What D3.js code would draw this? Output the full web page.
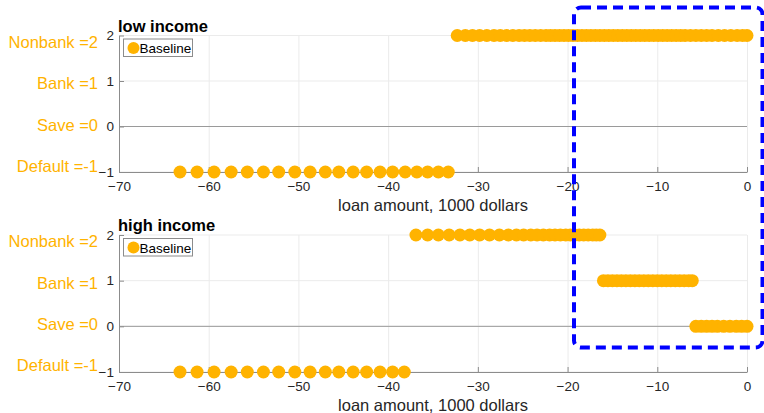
<!DOCTYPE html>
<html>
<head>
<meta charset="utf-8">
<script src="https://cdn.jsdelivr.net/npm/d3@7"></script>
<style>
  html, body { margin: 0; padding: 0; background: #fff; }
  svg { display: block; font-family: "Liberation Sans", Arial, Helvetica, sans-serif; }
</style>
</head>
<body>
<svg id="chart" width="764" height="413"></svg>
<script>
// Loan-choice policy by loan amount (1000 dollars) for two income types.
const xTicks = [-70, -60, -50, -40, -30, -20, -10, 0];
const yTicks = [-1, 0, 1, 2];
const choiceNames = ["Default =-1", "Save =0", "Bank =1", "Nonbank =2"];
const panelTitles = ["low income", "high income"];
const seriesName = "Baseline";
const xLabel = "loan amount, 1000 dollars";

// low income: loan amounts for each chosen option
const lowDefault = [-63.2, -61.3, -59.4, -57.5, -55.7, -53.9, -52.2, -50.4, -48.7, -47.0,
  -45.5, -43.9, -42.4, -40.9, -39.5, -38.1, -36.8, -35.6, -34.4, -33.3];
const lowSave = [];
const lowBank = [];
const lowNonbank = [-32.3, -31.4, -30.6, -29.8, -29.0, -28.2, -27.5, -26.8, -26.1, -25.4,
  -24.8, -24.2, -23.6, -23.0, -22.4, -21.9, -21.4, -20.9, -20.4, -19.9, -19.4, -18.9,
  -18.4, -17.9, -17.4, -16.9, -16.4, -15.9, -15.4, -14.9, -14.4, -13.9, -13.4, -12.9,
  -12.4, -11.9, -11.4, -10.9, -10.4, -9.9, -9.4, -8.9, -8.4, -7.9, -7.4, -6.9, -6.3,
  -5.7, -5.1, -4.5, -3.9, -3.2, -2.5, -1.8, -1.1, -0.5, 0];

// high income: loan amounts for each chosen option
const highDefault = [-63.2, -61.3, -59.4, -57.5, -55.7, -53.9, -52.2, -50.4, -48.7, -47.0,
  -45.5, -43.9, -42.4, -40.9, -39.5, -38.2];
const highNonbank = [-36.9, -35.6, -34.4, -33.2, -32.0, -30.9, -29.8, -28.7, -27.6, -26.6,
  -25.7, -24.9, -24.1, -23.4, -22.7, -22.0, -21.4, -20.8, -20.2, -19.7, -19.2, -18.7,
  -18.2, -17.7, -17.2, -16.8, -16.4];
const highBank = [-16.0, -15.5, -15.0, -14.5, -14.0, -13.5, -13.0, -12.5, -12.0, -11.5,
  -11.0, -10.5, -10.0, -9.5, -9.0, -8.5, -8.0, -7.5, -7.0, -6.5, -6.1];
const highSave = [-5.7, -5.1, -4.5, -3.9, -3.3, -2.6, -1.9, -1.2, -0.6, 0];

const dotColor = "#FFB300";

const panels = [
  { title: panelTitles[0], top: 35.5, bottom: 172,
    groups: [[lowDefault, -1], [lowSave, 0], [lowBank, 1], [lowNonbank, 2]],
    labelBase: [171.5, 130.5, 89, 48] },
  { title: panelTitles[1], top: 235, bottom: 372,
    groups: [[highDefault, -1], [highSave, 0], [highBank, 1], [highNonbank, 2]],
    labelBase: [370.5, 330, 288.5, 246.5] }
];

const svg = d3.select("#chart");
const x = d3.scaleLinear().domain([-70, 0]).range([119, 747]);
const intFmt = d3.format("d");

panels.forEach(p => {
  const y = d3.scaleLinear().domain([-1, 2]).range([p.bottom, p.top]);
  const g = svg.append("g");

  // grid
  g.append("g").selectAll("line").data(xTicks).join("line")
    .attr("x1", d => x(d) + 0.5).attr("x2", d => x(d) + 0.5)
    .attr("y1", p.top).attr("y2", p.bottom)
    .attr("stroke", "#ebebeb").attr("stroke-width", 1);
  g.append("g").selectAll("line").data(yTicks).join("line")
    .attr("x1", x(-70)).attr("x2", x(0))
    .attr("y1", d => y(d)).attr("y2", d => y(d))
    .attr("stroke", "#ebebeb").attr("stroke-width", 1);

  // zero reference line
  g.append("line")
    .attr("x1", x(-70)).attr("x2", x(0))
    .attr("y1", y(0)).attr("y2", y(0))
    .attr("stroke", "#9a9a9a").attr("stroke-width", 1);

  // axes (ticks pointing inward)
  const xAxis = d3.axisBottom(x).tickValues(xTicks).tickFormat(intFmt)
    .tickSizeInner(-5).tickSizeOuter(0).tickPadding(9);
  const gx = g.append("g").attr("transform", `translate(0,${p.bottom})`).call(xAxis);
  const yAxis = d3.axisLeft(y).tickValues(yTicks).tickFormat(intFmt)
    .tickSizeInner(-5).tickSizeOuter(0).tickPadding(5);
  const gy = g.append("g").attr("transform", `translate(${x(-70)},0)`).call(yAxis);
  [gx, gy].forEach(a => {
    a.select(".domain").attr("stroke", "#8c8c8c");
    a.selectAll(".tick line").attr("stroke", "#8c8c8c");
    a.selectAll(".tick text").attr("fill", "#262626")
      .style("font-size", "13.5px").style("font-family", "'Liberation Sans', Arial, sans-serif");
  });

  // dots
  p.groups.forEach(([vals, code]) => {
    g.append("g").selectAll("circle").data(vals).join("circle")
      .attr("cx", d => x(d)).attr("cy", y(code)).attr("r", 6.5)
      .attr("fill", dotColor);
  });

  // title
  g.append("text").attr("x", 118).attr("y", p.top - 4)
    .attr("font-weight", "bold").attr("font-size", 16.5).attr("fill", "#000")
    .text(p.title);

  // x label
  g.append("text").attr("x", (x(-70) + x(0)) / 2).attr("y", p.bottom + 38.5)
    .attr("text-anchor", "middle").attr("font-size", 16.5).attr("fill", "#262626")
    .text(xLabel);

  // choice labels
  g.append("g").selectAll("text").data(choiceNames).join("text")
    .attr("x", 98).attr("y", (d, i) => p.labelBase[i])
    .attr("text-anchor", "end").attr("font-size", 16.5).attr("fill", dotColor)
    .text(d => d);

  // legend
  const lg = g.append("g").attr("transform", `translate(123.5,${p.top + 3.5})`);
  lg.append("rect").attr("width", 69).attr("height", 17.5)
    .attr("fill", "#fff").attr("stroke", "#8c8c8c").attr("stroke-width", 1);
  lg.append("circle").attr("cx", 10).attr("cy", 9).attr("r", 6).attr("fill", dotColor);
  lg.append("text").attr("x", 16).attr("y", 14).attr("font-size", 13.5).attr("fill", "#000")
    .text(seriesName);
});

// highlighted region
svg.append("rect")
  .attr("x", 574).attr("y", 7.5).attr("width", 188.5).attr("height", 340)
  .attr("rx", 7).attr("ry", 7)
  .attr("fill", "none").attr("stroke", "#0000ff").attr("stroke-width", 4)
  .attr("stroke-dasharray", "10,6");
</script>
</body>
</html>
